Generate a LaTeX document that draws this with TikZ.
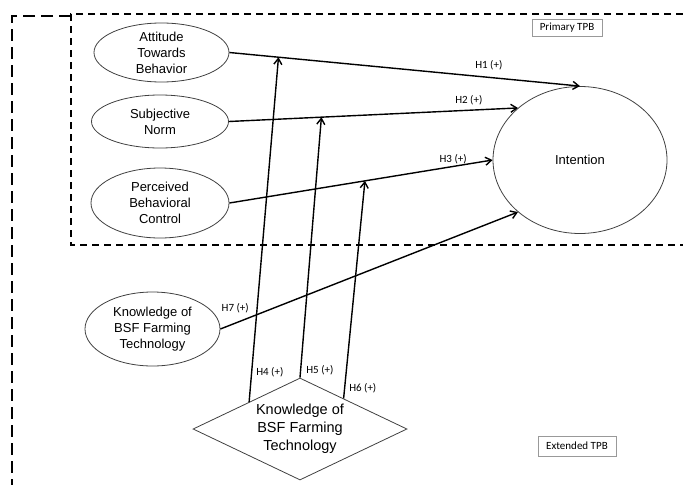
\documentclass[tikz,border=0pt]{standalone}
\usepackage{fontspec}
\setmainfont{Liberation Sans}
\newfontfamily\hypfont{Carlito}
\usetikzlibrary{shapes.geometric,arrows.meta}

\tikzset{
  construct/.style={ellipse,draw=black!75,line width=0.8pt,inner sep=0pt,align=center,
    font=\fontsize{13}{16}\selectfont},
  hyp/.style={font=\hypfont\fontsize{11}{13}\selectfont,inner sep=1pt},
  link/.style={draw,line width=1.4pt,-{Straight Barb[length=6pt,width=8pt]}},
  tag/.style={draw=black!40,line width=0.8pt,inner sep=0pt,
    font=\hypfont\fontsize{11}{13}\selectfont}
}

\begin{document}
\begin{tikzpicture}[x=1pt,y=-1pt]
        \useasboundingbox (0,0) rectangle (683,485);

        % model boundaries
        \draw[line width=1.4pt,dash pattern=on 12pt off 6pt] (71,16) -- (12,16) -- (12,485);
        \draw[line width=1.3pt,dash pattern=on 7pt off 5pt] (683,14) -- (71,14) -- (71,245) -- (683,245);

        \begin{scope}[every node/.style={construct}]
          \node (att) at (161.5,52.5) [minimum width=135pt,minimum height=59pt] {Attitude\\Towards\\Behavior};
          \node (sn)  at (160,121.5)  [minimum width=137pt,minimum height=53pt] {Subjective\\Norm};
          \node (pbc) at (160,203)    [minimum width=138pt,minimum height=70pt] {Perceived\\Behavioral\\Control};
          \node (kn)  at (152.5,329)  [minimum width=135pt,minimum height=74pt] {Knowledge of\\BSF Farming\\Technology};
          \node (int) at (580,160)    [minimum width=174pt,minimum height=147pt] {Intention};
        \end{scope}

        \node (dia) at (300,429) [diamond,aspect=2.1,draw=black!75,line width=0.8pt,inner sep=0pt,
          minimum width=214pt,minimum height=102pt,align=center,
          font=\fontsize{14.5}{18}\selectfont] {Knowledge of\\BSF Farming\\Technology};

        \node[tag,minimum width=70pt,minimum height=17pt] (ptpb) at (567,27.5) {Primary TPB};
        \node[tag,minimum width=78pt,minimum height=20pt] (etpb) at (577,446) {Extended TPB};

        \begin{scope}[every edge/.style={link}]
          \path (att.east) edge node[hyp,pos=0.74,above=6pt] {H1 (+)} (int.north);
          \path (sn.east)  edge node[hyp,pos=0.83,above=4pt] {H2 (+)} (int.140);
          \path (pbc.east) edge node[hyp,pos=0.85,above=1pt] {H3 (+)} (int.west);
          \path (kn.east)  edge node[hyp,pos=0.05,above=8pt] {H7 (+)} (int.220);

          % moderation points on the TPB paths
          \path (att.east) -- coordinate[pos=0.14] (m1) (int.north);
          \path (sn.east)  -- coordinate[pos=0.32] (m2) (int.140);
          \path (pbc.east) -- coordinate[pos=0.515] (m3) (int.west);

          \path (dia.152)   edge node[hyp,pos=0.085,right=3pt] {H4 (+)} (m1);
          \path (dia.north) edge node[hyp,pos=0.03,right=4pt] {H5 (+)} (m2);
          \path (dia.35)    edge node[hyp,pos=0.045,right=3pt] {H6 (+)} (m3);
        \end{scope}

      \end{tikzpicture}
\end{document}
